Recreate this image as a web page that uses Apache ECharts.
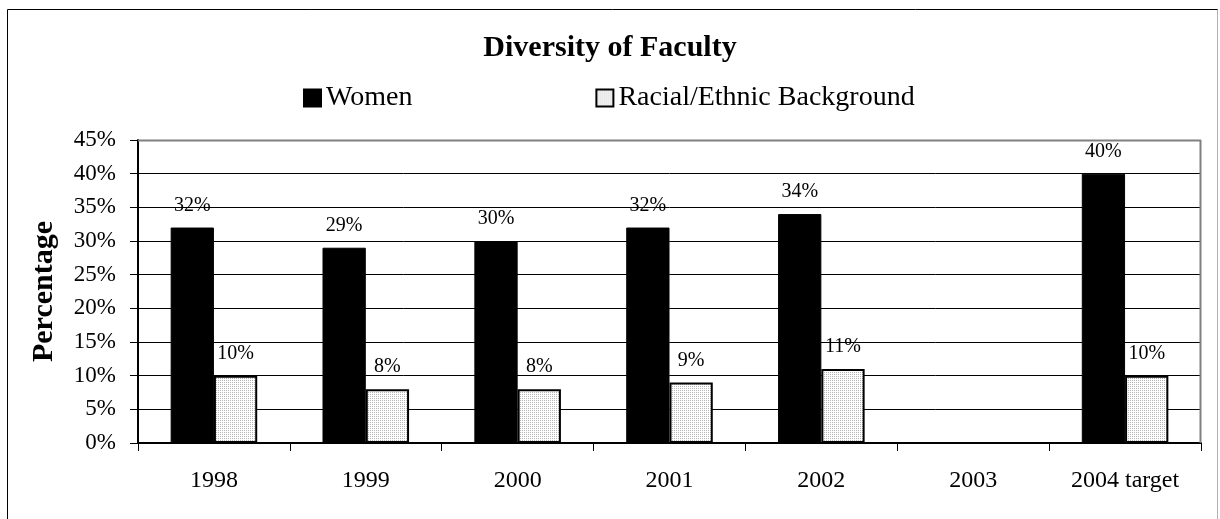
<!DOCTYPE html>
<html>
<head>
<meta charset="utf-8">
<script src="https://cdn.jsdelivr.net/npm/echarts@6/dist/echarts.min.js"></script>
<style>
  html, body { margin: 0; padding: 0; background: #fff; }
  #chart { width: 1220px; height: 519px; }
</style>
</head>
<body>
<div id="chart"></div>
<script>
// Faculty diversity, percent of faculty per year
const years = ['1998', '1999', '2000', '2001', '2002', '2003', '2004 target'];
const women = [32, 29, 30, 32, 34, null, 40];
const racialEthnic = [10, 8, 8, 9, 11, null, 10];
const yTicks = { min: 0, max: 45, interval: 5 };

const serif = '"Liberation Serif", "Times New Roman", serif';

// fine grey dot fill used for the second series
function dotPattern() {
  const c = document.createElement('canvas');
  c.width = 2; c.height = 2;
  const ctx = c.getContext('2d');
  ctx.fillStyle = '#ffffff';
  ctx.fillRect(0, 0, 2, 2);
  ctx.fillStyle = '#b4b4b4';
  ctx.fillRect(0, 0, 1, 1);
  return c;
}

const chart = echarts.init(document.getElementById('chart'), null, { renderer: 'canvas' });

chart.setOption({
  animation: false,
  backgroundColor: '#fff',
  title: {
    text: 'Diversity of Faculty',
    left: 'center',
    top: 28,
    textStyle: { fontFamily: serif, fontSize: 30, fontWeight: 'bold', color: '#000' }
  },
  legend: {
    left: 303,
    top: 84,
    padding: 0,
    itemWidth: 17,
    itemHeight: 17,
    itemGap: 183,
    icon: 'rect',
    textStyle: { fontFamily: serif, fontSize: 28, color: '#000' },
    data: ['Women', 'Racial/Ethnic Background']
  },
  grid: { left: 138, right: 19, top: 140, bottom: 76, containLabel: false },
  xAxis: {
    type: 'category',
    data: years,
    boundaryGap: true,
    axisLine: { lineStyle: { color: '#000', width: 2 } },
    axisTick: { show: true, length: 8, inside: false, lineStyle: { color: '#000', width: 1 } },
    axisLabel: { fontFamily: serif, fontSize: 24, color: '#000', margin: 26 },
    splitLine: { show: false }
  },
  yAxis: {
    type: 'value',
    min: yTicks.min,
    max: yTicks.max,
    interval: yTicks.interval,
    name: 'Percentage',
    nameLocation: 'middle',
    nameGap: 79,
    nameTextStyle: { fontFamily: serif, fontSize: 30, fontWeight: 'bold', color: '#000' },
    axisLine: { show: true, lineStyle: { color: '#000', width: 2 } },
    axisTick: { show: true, length: 8, lineStyle: { color: '#000', width: 1 } },
    axisLabel: { fontFamily: serif, fontSize: 23, color: '#000', margin: 22, formatter: '{value}%' },
    splitLine: { show: true, lineStyle: { color: '#000', width: 1 } }
  },
  graphic: [
    // plot frame (top and right edges)
    { type: 'line', shape: { x1: 138, y1: 140.5, x2: 1201, y2: 140.5 }, style: { stroke: '#808080', lineWidth: 2 }, z: 5 },
    { type: 'line', shape: { x1: 1200.5, y1: 140, x2: 1200.5, y2: 443 }, style: { stroke: '#808080', lineWidth: 2 }, z: 5 },
    // outer chart border
    { type: 'line', shape: { x1: 7.5, y1: 9.5, x2: 1218, y2: 9.5 }, style: { stroke: '#000', lineWidth: 1 } },
    { type: 'line', shape: { x1: 7.5, y1: 9.5, x2: 7.5, y2: 519 }, style: { stroke: '#000', lineWidth: 1 } },
    { type: 'line', shape: { x1: 1217.5, y1: 9.5, x2: 1217.5, y2: 519 }, style: { stroke: '#b0b0b0', lineWidth: 1 } }
  ],
  series: [
    {
      name: 'Women',
      type: 'bar',
      data: women,
      barGap: '0%',
      barCategoryGap: '43%',
      itemStyle: { color: '#000', borderColor: '#000', borderWidth: 1 },
      label: {
        show: true, position: 'top', distance: 12,
        fontFamily: serif, fontSize: 20, color: '#000',
        formatter: p => p.value + '%'
      },
      z: 3
    },
    {
      name: 'Racial/Ethnic Background',
      type: 'bar',
      data: racialEthnic,
      itemStyle: { color: { image: dotPattern(), repeat: 'repeat' }, borderColor: '#000', borderWidth: 2 },
      label: {
        show: true, position: 'top', distance: 12,
        fontFamily: serif, fontSize: 20, color: '#000',
        formatter: p => p.value + '%'
      },
      z: 3
    }
  ]
});
</script>
</body>
</html>
